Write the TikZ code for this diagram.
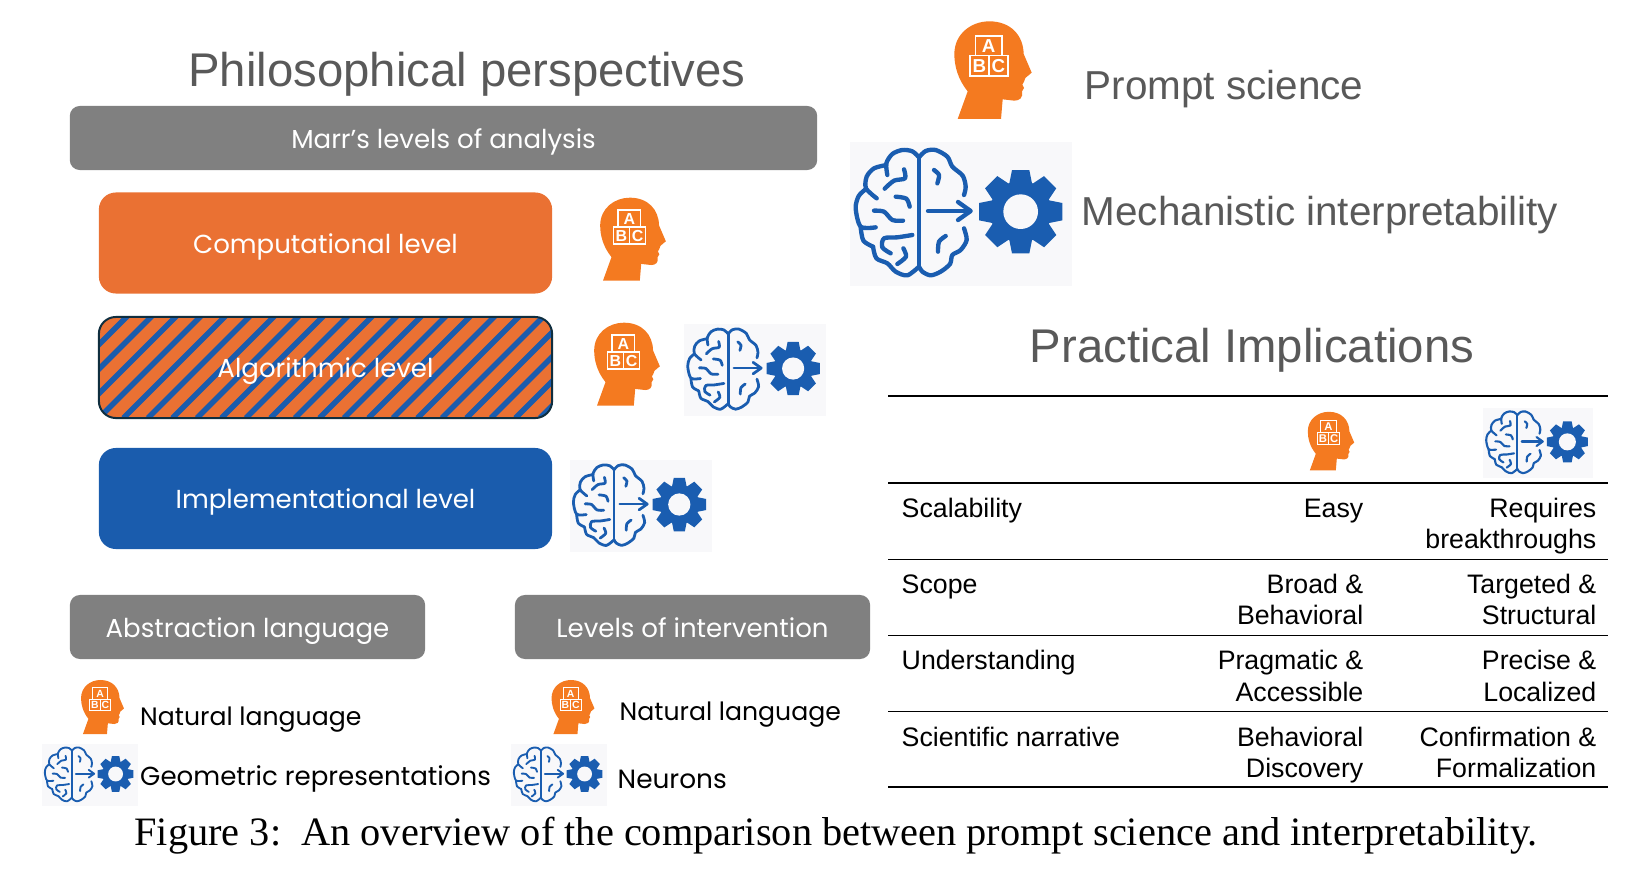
\documentclass[tikz,border=0pt]{standalone}
\usepackage{fontspec}
\setmainfont{Liberation Sans}
\newfontfamily\boxfont{Poppins}
\newfontfamily\capfont{Liberation Serif}
\usetikzlibrary{arrows.meta,calc}
\definecolor{psGray}{HTML}{808080}
\definecolor{psText}{HTML}{595959}
\definecolor{psOrange}{HTML}{EA7133}
\definecolor{psBlue}{HTML}{1A5CAD}
\definecolor{psHead}{HTML}{F47A20}
\definecolor{psIcon}{HTML}{1A5DB0}
\definecolor{psPale}{HTML}{F8F8FA}
\definecolor{psEdge}{HTML}{0F2E3F}

\tikzset{
  pics/headicon/.style={code={
    \begin{scope}[scale=#1,shift={(-461,-208)}]
      \fill[psHead] (355,355) -- (385,272) .. controls (355,235) and (345,195) .. (345,160)
        .. controls (345,100) and (395,62) .. (450,62)
        .. controls (515,62) and (552,105) .. (553,160)
        -- (577,216) -- (558,232) -- (554,243) -- (549,252) -- (554,262) -- (548,272)
        .. controls (552,292) and (540,300) .. (525,300) -- (490,296) -- (485,355) -- cycle;
      \draw[white,line width=0.05*#1 cm] (408,105) rectangle (488,165)
        (392,165) rectangle (448,226) (448,165) rectangle (505,226);
      \node[transform shape,text=white,inner sep=0pt,font=\bfseries\fontsize{16}{16}\selectfont] (-a) at (448,136) {A};
      \node[transform shape,text=white,inner sep=0pt,font=\bfseries\fontsize{16}{16}\selectfont] (-b) at (420,196) {B};
      \node[transform shape,text=white,inner sep=0pt,font=\bfseries\fontsize{16}{16}\selectfont] (-c) at (477,196) {C};
    \end{scope}
  }},
  pics/brainicon/.style={code={
    \begin{scope}[scale=#1,shift={(-361,-642)}]
      \fill[psPale] (28,427) rectangle (695,857);
      \begin{scope}[psIcon,line width=0.13*#1 cm,line cap=round,line join=round]
        % left half
        \draw (235,470) -- (235,800);
        \draw plot[smooth] coordinates {(235,472) (215,454) (185,450) (155,462) (137,490) (140,525)};
        \draw plot[smooth] coordinates {(137,495) (100,505) (78,530) (76,565) (108,595)};
        \draw plot[smooth] coordinates {(76,567) (54,588) (45,625) (60,680) (105,682)};
        \draw plot[smooth] coordinates {(60,682) (68,722) (97,740)};
        \draw plot[smooth] coordinates {(97,740) (107,775) (140,790) (165,815) (200,826) (235,800)};
        \draw plot[smooth] coordinates {(190,508) (193,535) (160,542) (132,566)};
        \draw plot[smooth] coordinates {(165,590) (197,596) (207,620)};
        \draw plot[smooth] coordinates {(100,632) (130,635) (155,660) (187,662)};
        \draw plot[smooth] coordinates {(215,705) (170,712) (130,715) (125,742) (150,760)};
        \draw plot[smooth] coordinates {(188,745) (196,770) (170,792)};
        % right half
        \draw plot[smooth] coordinates {(235,472) (255,453) (285,450) (320,470) (335,500) (366,527) (375,560) (370,585)};
        \draw plot[smooth] coordinates {(280,510) (295,525) (290,550)};
        \draw plot[smooth] coordinates {(370,685) (378,720) (360,750) (335,765) (328,792) (300,815) (270,826) (245,815) (235,800)};
        \draw plot[smooth] coordinates {(315,708) (295,725) (292,755)};
        % arrow
        \draw (262,633) -- (385,633);
        \draw (352,606) -- (390,633) -- (352,660);
      \end{scope}
      \fill[psIcon] (540,635) circle (92);
      \foreach \a in {0,45,...,315}
        \fill[psIcon,shift={(540,635)},rotate=\a] (-26,125) -- (26,125) -- (37,70) -- (-37,70) -- cycle;
      \fill[psPale] (540,635) circle (52);
    \end{scope}
  }},
  stripefill/.style={path picture={
    \foreach \i in {-6,...,22}
      \draw[psBlue,line width=0.055cm] ($(path picture bounding box.south west)+(\i*24.5,0)$) -- ++(120,-120);
  }}
}

\begin{document}
\begin{tikzpicture}[x=0.01cm,y=-0.01cm,
    title/.style={text=psText,font=\fontsize{13.45}{16}\selectfont,inner sep=0pt},
    heading/.style={text=psText,font=\fontsize{11.5}{14}\selectfont,inner sep=0pt},
    bar/.style={fill=psGray,rounded corners=0.1cm,text=white,font=\boxfont\fontsize{7.4}{8}\selectfont,
                minimum height=0.64cm,inner sep=0pt,text height=0.25cm,text depth=0.05cm},
    levelbox/.style={rounded corners=0.17cm,text=white,font=\boxfont\fontsize{7.4}{8}\selectfont,
                minimum width=4.53cm,minimum height=1.01cm,inner sep=0pt,text height=0.25cm,text depth=0.05cm},
    item/.style={anchor=base west,font=\boxfont\fontsize{7.15}{8}\selectfont,inner sep=0pt},
    rowname/.style={anchor=base west,font=\fontsize{7.6}{9.07}\selectfont,inner sep=0pt},
    cell/.style={anchor=base east,align=right,font=\fontsize{7.6}{9.07}\selectfont,inner sep=0pt},
    rowrule/.style={line width=0.015cm,black}]
  \useasboundingbox (0,0) rectangle (1631,891);

  % left side
  \node[title] (tPhil) at (467,74) {Philosophical perspectives};
  \node[bar,minimum width=7.47cm] (bMarr) at (443.5,138) {Marr’s levels of analysis};
  \node[levelbox,fill=psOrange] (lComp) at (325.5,243) {Computational level};
  \node[levelbox,stripefill,fill=psOrange,draw=psEdge,line width=0.02cm] (lAlgo) at (325.5,367.5) {Algorithmic level};
  \node[levelbox,fill=psBlue] (lImpl) at (325.5,498.5) {Implementational level};
  \pic (hComp) at (633,239) {headicon=0.283};
  \pic (hAlgo) at (627,364) {headicon=0.283};
  \pic (mAlgo) at (755,370) {brainicon=0.213};
  \pic (mImpl) at (641,506) {brainicon=0.214};

  \node[bar,minimum width=3.55cm] (bAbst) at (247.5,627) {Abstraction language};
  \node[bar,minimum width=3.55cm] (bIntv) at (692.5,627) {Levels of intervention};
  \pic (hAbst) at (102.5,707) {headicon=0.185};
  \pic (mAbst) at (90,775) {brainicon=0.143};
  \pic (hIntv) at (573,707) {headicon=0.185};
  \pic (mIntv) at (559,775) {brainicon=0.143};
  \node[item] (iAbstA) at (139.5,725) {Natural language};
  \node[item,font=\boxfont\fontsize{7.42}{8}\selectfont] (iAbstB) at (139.5,785) {Geometric representations};
  \node[item] (iIntvA) at (619,720) {Natural language};
  \node[item,font=\boxfont\fontsize{7.5}{8}\selectfont] (iIntvB) at (617,788) {Neurons};

  % right side
  \pic (hTop) at (993,70) {headicon=0.3333};
  \pic (mTop) at (961,214) {brainicon=0.3333};
  \node[heading] (tPrompt) at (1224,89) {Prompt science};
  \node[heading] (tMech) at (1320,215) {Mechanistic interpretability};
  \node[title] (tPract) at (1252,350) {Practical Implications};

  % table
  \coordinate (rL) at (888,0);
  \coordinate (rR) at (1608,0);
  \foreach \y in {396,483,559.5,635.5,711.5,787}
    \draw[rowrule] (rL |- 0,\y) -- (rR |- 0,\y);
  \pic (hTab) at (1331,441) {headicon=0.2};
  \pic (mTab) at (1538,443) {brainicon=0.164};

  \node[rowname] (r1) at (901,517) {Scalability};
  \node[cell] (c1a) at (1364,517) {Easy};
  \node[cell,anchor=north east] (c1b) at (1597,497) {Requires\\breakthroughs};
  \node[rowname] (r2) at (901,593) {Scope};
  \node[cell,anchor=north east] (c2a) at (1364,573) {Broad \&\\Behavioral};
  \node[cell,anchor=north east] (c2b) at (1597,573) {Targeted \&\\Structural};
  \node[rowname] (r3) at (901,669.5) {Understanding};
  \node[cell,anchor=north east] (c3a) at (1364,649.5) {Pragmatic \&\\Accessible};
  \node[cell,anchor=north east] (c3b) at (1597,649.5) {Precise \&\\Localized};
  \node[rowname] (r4) at (901,746) {Scientific narrative};
  \node[cell,anchor=north east] (c4a) at (1364,726) {Behavioral\\Discovery};
  \node[cell,anchor=north east] (c4b) at (1597,726) {Confirmation \&\\Formalization};

  \node[inner sep=0pt,font=\capfont\fontsize{11.47}{15}\selectfont] (cap) at (836,836)
    {Figure 3:\ \ An overview of the comparison between prompt science and interpretability.};
\end{tikzpicture}
\end{document}
